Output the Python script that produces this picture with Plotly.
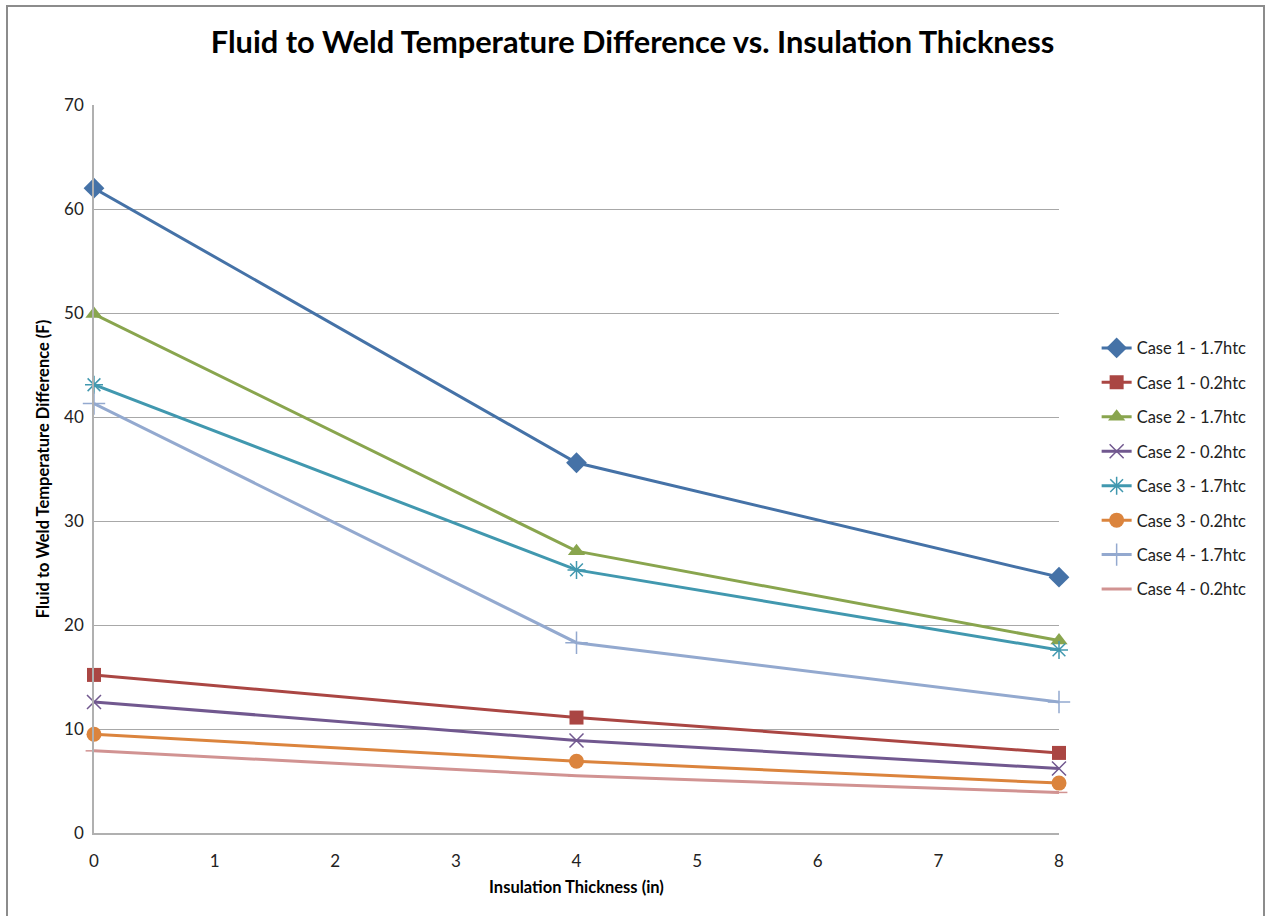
import plotly.graph_objects as go

thickness = [0, 4, 8]
names = ["Case 1 - 1.7htc", "Case 1 - 0.2htc", "Case 2 - 1.7htc", "Case 2 - 0.2htc",
         "Case 3 - 1.7htc", "Case 3 - 0.2htc", "Case 4 - 1.7htc", "Case 4 - 0.2htc"]
case1_17 = [62.0, 35.6, 24.6]
case1_02 = [15.2, 11.1, 7.7]
case2_17 = [49.9, 27.1, 18.5]
case2_02 = [12.6, 8.9, 6.2]
case3_17 = [43.1, 25.3, 17.6]
case3_02 = [9.5, 6.9, 4.8]
case4_17 = [41.3, 18.3, 12.6]
case4_02 = [7.9, 5.5, 3.9]
series = [case1_17, case1_02, case2_17, case2_02, case3_17, case3_02, case4_17, case4_02]

colors = ["#4572A7", "#AA4643", "#89A54E", "#71588F", "#4198AF", "#DB843D", "#93A9CF", "#D19392"]
symbols = ["diamond", "square", "triangle-up", "x-thin-open", "asterisk-open", "circle",
           "cross-thin-open", "line-ew-open"]
sizes = [16, 14, 15, 14, 15, 15, 16, 12]

fig = go.Figure()
for i, (nm, ys) in enumerate(zip(names, series)):
    fig.add_trace(go.Scatter(
        x=thickness, y=ys, name=nm, mode="lines+markers", cliponaxis=False,
        line=dict(color=colors[i], width=3),
        marker=dict(symbol=symbols[i], size=sizes[i], color=colors[i],
                    line=dict(color=colors[i], width=1.5 if "open" in symbols[i] else 0)),
        legendgroup=str(i),
    ))

font = "Lato, 'Open Sans', sans-serif"
fig.update_layout(
    width=1265, height=916,
    margin=dict(l=94, r=206, t=105, b=83),
    paper_bgcolor="white", plot_bgcolor="white",
    font=dict(family=font, size=16, color="#222"),
    title=dict(text="<b>Fluid to Weld Temperature Difference vs. Insulation Thickness</b>",
               x=0.5, xanchor="center", y=0.954, yanchor="middle",
               font=dict(size=30.8, color="black", family=font)),
    xaxis=dict(range=[0, 8], dtick=1, showgrid=False, zeroline=False,
               showline=True, linecolor="#B0B0B0", linewidth=1.5,
               ticks="outside", ticklen=12, tickcolor="rgba(0,0,0,0)",
               tickfont=dict(size=17, color="#222"),
               title=dict(text="<b>Insulation Thickness (in)</b>", font=dict(size=16.5, color="black"),
                          standoff=11)),
    yaxis=dict(range=[0, 70], dtick=10, showgrid=True, gridcolor="#A8A8A8", gridwidth=1,
               zeroline=False, showline=True, linecolor="#B0B0B0", linewidth=1.5,
               ticks="outside", ticklen=5, tickcolor="rgba(0,0,0,0)",
               tickfont=dict(size=17, color="#222"),
               title=dict(text="<b>Fluid to Weld Temperature Difference (F)</b>",
                          font=dict(size=16.5, color="black"), standoff=10)),
    legend=dict(x=1.039, xanchor="left", y=0.69, yanchor="top",
                font=dict(size=16.5, color="#222"), tracegroupgap=10,
                traceorder="grouped", bgcolor="rgba(0,0,0,0)"),
    shapes=[dict(type="rect", xref="paper", yref="paper",
                 x0=(7 - 94) / 965, x1=(1264 - 94) / 965,
                 y0=-0.3, y1=(833 - 6) / 728,
                 line=dict(color="#8C8C8C", width=2), layer="below")],
)
fig.write_html("out.html")
